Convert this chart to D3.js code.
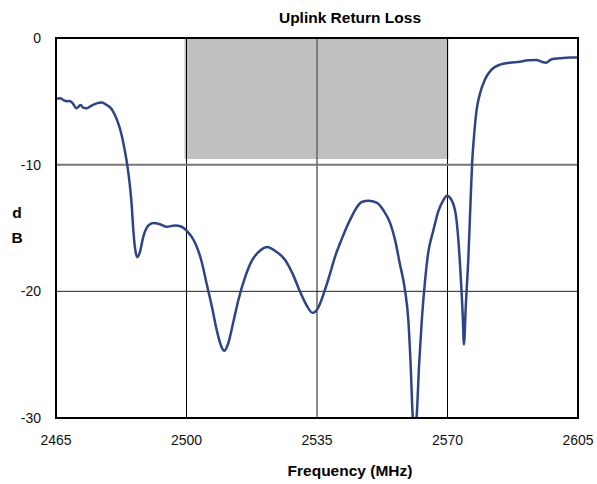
<!DOCTYPE html>
<html>
<head>
<meta charset="utf-8">
<script src="https://cdn.jsdelivr.net/npm/d3@7"></script>
<style>
    body { margin: 0; background: #fff; }
    text { font-family: "Liberation Sans", Arial, sans-serif; }
</style>
</head>
<body>
<div id="svg-container"></div>
<script>
// Frequency (MHz) and return loss (dB)
var freq = [
    2465.0, 2466.1, 2467.0, 2467.9, 2468.6, 2469.5, 2470.5, 2471.6, 2472.3, 2473.2,
    2474.5, 2475.9, 2477.3, 2478.6, 2479.9, 2480.8, 2481.7, 2482.6, 2483.5, 2484.1,
    2484.8, 2485.3, 2485.7, 2486.2, 2486.8, 2487.5, 2488.4, 2489.8, 2491.1, 2492.9,
    2494.7, 2496.9, 2498.7, 2500.3, 2501.4, 2502.5, 2504.1, 2505.4, 2506.8, 2508.1,
    2509.4, 2510.1, 2511.2, 2512.5, 2513.9, 2515.7, 2517.5, 2519.7, 2521.7, 2523.7,
    2526.4, 2528.6, 2530.4, 2532.2, 2533.8, 2535.3, 2537.0, 2538.5, 2539.8, 2541.6,
    2543.0, 2544.3, 2545.6, 2547.0, 2548.8, 2551.0, 2552.8, 2554.6, 2555.9, 2557.2,
    2558.6, 2559.5, 2560.1, 2560.7, 2561.2, 2561.7, 2562.4, 2563.1, 2564.0, 2564.8,
    2566.2, 2567.5, 2568.9, 2569.8, 2571.1, 2572.3, 2572.9, 2573.5, 2574.1, 2574.4,
    2574.9, 2575.6, 2576.2, 2576.6, 2577.1, 2577.8, 2578.7, 2580.0, 2581.8, 2584.1,
    2586.7, 2589.4, 2591.7, 2593.9, 2595.2, 2596.4, 2597.9, 2600.2, 2602.8, 2605.0
]
var returnLoss = [
    -4.80, -4.76, -4.90, -5.00, -4.97, -5.16, -5.55, -5.29, -5.50, -5.55,
    -5.34, -5.16, -5.10, -5.29, -5.60, -6.08, -6.74, -7.66, -8.97, -10.0,
    -11.6, -13.2, -15.0, -16.6, -17.3, -16.9, -15.7, -14.8, -14.6, -14.7,
    -14.9, -14.8, -14.9, -15.3, -15.7, -16.3, -17.7, -19.4, -21.2, -23.05,
    -24.4, -24.7, -24.1, -22.5, -20.7, -18.9, -17.6, -16.8, -16.5, -16.8,
    -17.5, -18.7, -20.0, -21.1, -21.7, -21.3, -20.0, -18.6, -17.3, -15.9,
    -14.9, -14.1, -13.4, -12.95, -12.85, -13.0, -13.6, -14.6, -15.9, -17.8,
    -19.9, -22.3, -25.7, -30.0, -31.0, -30.0, -25.7, -22.3, -19.1, -17.0,
    -15.2, -13.7, -12.8, -12.45, -12.8, -14.1, -15.9, -18.6, -22.0, -24.2,
    -21.2, -17.3, -12.8, -9.9, -7.8, -5.7, -4.4, -3.3, -2.5, -2.1,
    -1.95, -1.87, -1.76, -1.74, -1.87, -1.95, -1.68, -1.60, -1.53, -1.53
]

var xTicks = [2465, 2500, 2535, 2570, 2605]
var yTicks = [0, -10, -20, -30]
var band = [2500, 2570]   // shaded uplink band
var bandLevel = [0, -9.55]

width = 597
height = 484
margin = { left: 56, right: 19, top: 38, bottom: 66 }

svg = d3.select("#svg-container")
    .append("svg")
    .attr("width", width)
    .attr("height", height)

xScale = d3.scaleLinear()
    .domain([2465, 2605])
    .range([margin.left, width - margin.right])

yScale = d3.scaleLinear()
    .domain([-30, 0])
    .range([height - margin.bottom, margin.top])

// shaded band
svg.append("rect")
    .attr("fill", "#c0c0c0")
    .attr("x", xScale(band[0]) - 2)
    .attr("y", yScale(bandLevel[0]))
    .attr("width", xScale(band[1]) - xScale(band[0]) + 3)
    .attr("height", yScale(bandLevel[1]) - yScale(bandLevel[0]))

// grid lines
svg.selectAll(".vgrid")
    .data(xTicks.slice(1, -1))
    .enter()
    .append("line")
    .attr("x1", (d) => xScale(d))
    .attr("x2", (d) => xScale(d))
    .attr("y1", yScale(0))
    .attr("y2", yScale(-30))
    .attr("stroke", (d) => d == 2535 ? "#666" : "#000")
    .attr("stroke-width", (d) => d == 2535 ? 1.5 : 1)

svg.selectAll(".hgrid")
    .data(yTicks.slice(1, -1))
    .enter()
    .append("line")
    .attr("x1", xScale(2465))
    .attr("x2", xScale(2605))
    .attr("y1", (d) => yScale(d))
    .attr("y2", (d) => yScale(d))
    .attr("stroke", (d) => d == -10 ? "#777" : "#222")
    .attr("stroke-width", (d) => d == -10 ? 2 : 1)

// clip so the deep notch is cut at -30
svg.append("clipPath")
    .attr("id", "plot-clip")
    .append("rect")
    .attr("x", xScale(2465))
    .attr("y", yScale(0))
    .attr("width", xScale(2605) - xScale(2465))
    .attr("height", yScale(-30) - yScale(0))

line = d3.line()
    .x((i) => xScale(freq[i]))
    .y((i) => yScale(returnLoss[i]))
    .curve(d3.curveMonotoneX)

svg.append("path")
    .attr("clip-path", "url(#plot-clip)")
    .attr("fill", "none")
    .attr("stroke", "#2f4487")
    .attr("stroke-width", 2.5)
    .attr("stroke-linejoin", "round")
    .attr("d", line(d3.range(freq.length)))

// frame
svg.append("rect")
    .attr("x", xScale(2465))
    .attr("y", yScale(0))
    .attr("width", xScale(2605) - xScale(2465))
    .attr("height", yScale(-30) - yScale(0))
    .attr("fill", "none")
    .attr("stroke", "#000")
    .attr("stroke-width", 2)

// tick labels
svg.selectAll(".xlab")
    .data(xTicks)
    .enter()
    .append("text")
    .attr("x", (d) => xScale(d))
    .attr("y", yScale(-30) + 27)
    .attr("text-anchor", "middle")
    .attr("font-size", "14px")
    .attr("fill", "#111")
    .text((d) => d)

svg.selectAll(".ylab")
    .data(yTicks)
    .enter()
    .append("text")
    .attr("x", 41)
    .attr("y", (d) => yScale(d) + 5)
    .attr("text-anchor", "end")
    .attr("font-size", "14px")
    .attr("fill", "#111")
    .text((d) => d)

// titles
svg.append("text")
    .attr("x", 350)
    .attr("y", 23)
    .attr("text-anchor", "middle")
    .attr("font-size", "15.5px")
    .attr("font-weight", "bold")
    .text("Uplink Return Loss")

svg.append("text")
    .attr("x", 350)
    .attr("y", 476)
    .attr("text-anchor", "middle")
    .attr("font-size", "15.5px")
    .attr("font-weight", "bold")
    .text("Frequency (MHz)")

svg.append("text")
    .attr("x", 17)
    .attr("y", 218)
    .attr("text-anchor", "middle")
    .attr("font-size", "15.5px")
    .attr("font-weight", "bold")
    .text("d")

svg.append("text")
    .attr("x", 17)
    .attr("y", 243)
    .attr("text-anchor", "middle")
    .attr("font-size", "15.5px")
    .attr("font-weight", "bold")
    .text("B")
</script>
</body>
</html>
